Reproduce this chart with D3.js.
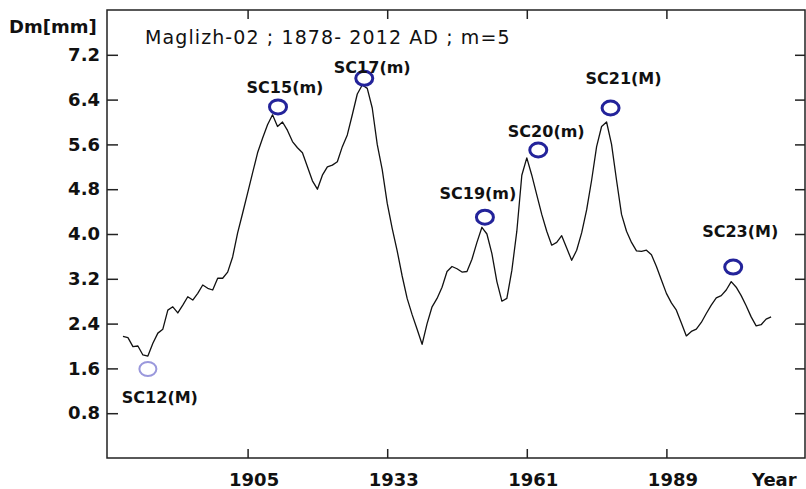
<!DOCTYPE html>
<html>
<head>
<meta charset="utf-8">
<script src="https://cdn.jsdelivr.net/npm/d3@7"></script>
<style>
  html, body { margin: 0; padding: 0; background: #fff; }
  svg { display: block; }
</style>
</head>
<body>
<div id="chart"></div>
<script>
// moving average (m=5) of Dm, one value per year 1880..2010
const firstYear = 1880;
const dmValues = [
  2.17, 2.15, 1.99, 2.00, 1.84, 1.82, 2.05, 2.23, 2.30, 2.64,   // 1880-1889
  2.70, 2.59, 2.73, 2.88, 2.82, 2.94, 3.09, 3.03, 3.00, 3.21,   // 1890-1899
  3.21, 3.32, 3.59, 4.02, 4.37, 4.73, 5.09, 5.45, 5.71, 5.95,   // 1900-1909
  6.13, 5.92, 6.00, 5.85, 5.65, 5.54, 5.45, 5.20, 4.95, 4.80,   // 1910-1919
  5.05, 5.20, 5.23, 5.29, 5.56, 5.77, 6.13, 6.50, 6.66, 6.60,   // 1920-1929
  6.25, 5.60, 5.15, 4.55, 4.10, 3.70, 3.25, 2.85, 2.56, 2.30,   // 1930-1939
  2.03, 2.40, 2.70, 2.85, 3.05, 3.33, 3.42, 3.38, 3.32, 3.33,   // 1940-1949
  3.55, 3.85, 4.12, 4.00, 3.65, 3.15, 2.80, 2.85, 3.35, 4.05,   // 1950-1959
  5.05, 5.36, 5.05, 4.70, 4.35, 4.05, 3.80, 3.85, 3.97, 3.75,   // 1960-1969
  3.53, 3.71, 4.02, 4.43, 4.96, 5.56, 5.92, 6.00, 5.60, 4.96,   // 1970-1979
  4.35, 4.05, 3.85, 3.70, 3.69, 3.71, 3.63, 3.42, 3.18, 2.94,   // 1980-1989
  2.77, 2.64, 2.41, 2.18, 2.26, 2.30, 2.42, 2.58, 2.73, 2.86,   // 1990-1999
  2.90, 3.00, 3.15, 3.05, 2.90, 2.72, 2.52, 2.36, 2.38, 2.48,   // 2000-2009
  2.52                                                          // 2010
];

// solar cycle extrema marked with circles
const cycleNames = ["SC12(M)", "SC15(m)", "SC17(m)", "SC19(m)", "SC20(m)", "SC21(M)", "SC23(M)"];
const cycleYears = [1885.0, 1911.1, 1928.4, 1952.6, 1963.3, 1977.8, 2002.4];
const cycleValues = [1.59, 6.27, 6.78, 4.30, 5.50, 6.25, 3.41];

const yTicks = [0.8, 1.6, 2.4, 3.2, 4.0, 4.8, 5.6, 6.4, 7.2];
const xTicks = [1905, 1933, 1961, 1989];
const titleText = "Maglizh-02 ; 1878- 2012 AD ; m=5";
const yLabel = "Dm[mm]";
const xLabel = "Year";

const width = 806, height = 489;
const frame = { left: 107, right: 805, top: 10, bottom: 458 };
const font = "'DejaVu Sans', Verdana, sans-serif";

const series = dmValues.map((v, i) => ({ year: firstYear + i, value: v }));
const cycles = cycleNames.map((n, i) => ({ name: n, year: cycleYears[i], value: cycleValues[i] }));

const svg = d3.select("#chart").append("svg")
  .attr("width", width)
  .attr("height", height);

const x = d3.scaleLinear().domain([1877, 2017]).range([108, 806]);
const y = d3.scaleLinear().domain([0, 8]).range([frame.bottom, frame.top]);

// axes: ticks point inward on all four sides, labels only left / bottom
const styleAxis = g => {
  g.select(".domain").remove();
  g.selectAll(".tick line").attr("stroke", "#222").attr("stroke-width", 1.5);
  g.selectAll("text")
    .attr("font-family", font)
    .attr("font-size", 18)
    .attr("font-weight", "bold")
    .attr("fill", "#111");
};

svg.append("g")
  .attr("transform", `translate(${frame.left},0)`)
  .call(d3.axisLeft(y).tickValues(yTicks).tickFormat(d3.format(".1f")).tickSize(-11).tickPadding(7))
  .call(styleAxis);

svg.append("g")
  .attr("transform", `translate(${frame.right},0)`)
  .call(d3.axisRight(y).tickValues(yTicks).tickFormat("").tickSize(-10))
  .call(styleAxis);

svg.append("g")
  .attr("transform", `translate(0,${frame.bottom})`)
  .call(d3.axisBottom(x).tickValues(xTicks).tickFormat(d3.format("d")).tickSize(-9).tickPadding(15))
  .call(styleAxis)
  .call(g => g.selectAll("text").attr("dx", 6));

svg.append("g")
  .attr("transform", `translate(0,${frame.top})`)
  .call(d3.axisTop(x).tickValues(xTicks).tickFormat("").tickSize(-9))
  .call(styleAxis);

// frame
svg.append("rect")
  .attr("x", frame.left)
  .attr("y", frame.top)
  .attr("width", frame.right - frame.left)
  .attr("height", frame.bottom - frame.top)
  .attr("fill", "none")
  .attr("stroke", "#222")
  .attr("stroke-width", 1.5);

// axis names and title
svg.append("text")
  .attr("x", 9).attr("y", 33)
  .attr("font-family", font).attr("font-size", 18).attr("font-weight", "bold")
  .attr("fill", "#111")
  .text(yLabel);

svg.append("text")
  .attr("x", 752).attr("y", 486)
  .attr("font-family", font).attr("font-size", 18).attr("font-weight", "bold")
  .attr("fill", "#111")
  .text(xLabel);

svg.append("text")
  .attr("x", 145).attr("y", 44)
  .attr("font-family", font).attr("font-size", 19)
  .attr("letter-spacing", 1.1)
  .attr("fill", "#111")
  .text(titleText);

// the series
const line = d3.line()
  .x(d => x(d.year))
  .y(d => y(d.value));

svg.append("path")
  .datum(series)
  .attr("fill", "none")
  .attr("stroke", "#111")
  .attr("stroke-width", 1.3)
  .attr("stroke-linejoin", "round")
  .attr("d", line);

// circles and their labels
const labelOffsets = {
  "SC12(M)": [12, 34], "SC15(m)": [7, -14], "SC17(m)": [8, -5],
  "SC19(m)": [-7, -18], "SC20(m)": [8, -13], "SC21(M)": [13, -24], "SC23(M)": [7, -30]
};

const marks = svg.append("g");
marks.selectAll("ellipse")
  .data(cycles)
  .join("ellipse")
    .attr("cx", d => x(d.year))
    .attr("cy", d => y(d.value))
    .attr("rx", 8.5)
    .attr("ry", 7)
    .attr("fill", "none")
    .attr("stroke", d => d.name === "SC12(M)" ? "#9a98dc" : "#23239a")
    .attr("stroke-width", d => d.name === "SC12(M)" ? 2 : 3);

marks.selectAll("text")
  .data(cycles)
  .join("text")
    .attr("x", d => x(d.year) + labelOffsets[d.name][0])
    .attr("y", d => y(d.value) + labelOffsets[d.name][1])
    .attr("text-anchor", "middle")
    .attr("font-family", font)
    .attr("font-size", 16)
    .attr("font-weight", "bold")
    .attr("fill", "#111")
    .text(d => d.name);
</script>
</body>
</html>
